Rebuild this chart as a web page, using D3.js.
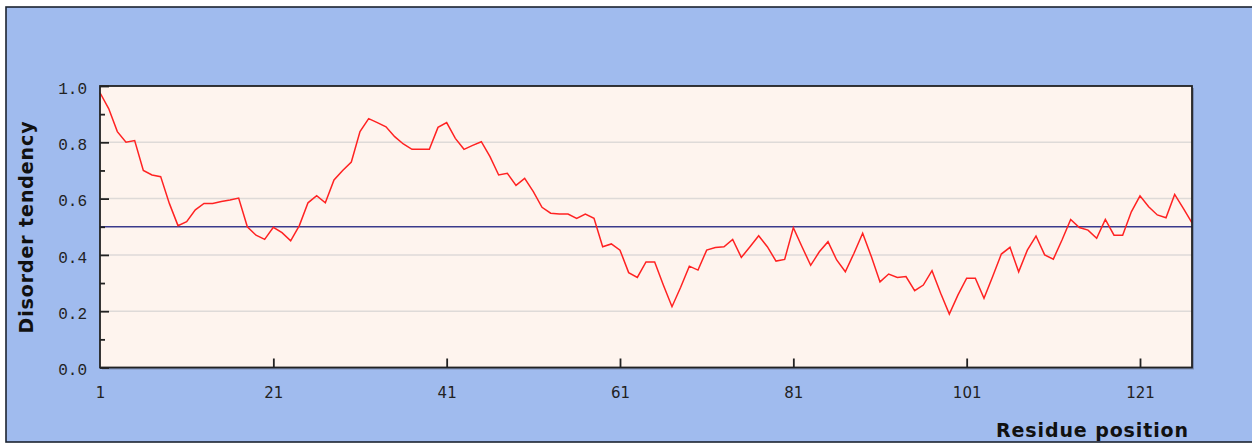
<!DOCTYPE html>
<html><head><meta charset="utf-8">
<script src="https://cdn.jsdelivr.net/npm/d3@7"></script>
<style>
html,body{margin:0;padding:0;background:#fff;}
svg{display:block;}
</style></head>
<body>
<svg id="c" width="1252" height="444"></svg>
<script>
// Disorder tendency per residue (residue = index + 1)
const disorder = [
0.976,0.92,0.838,0.80,0.806,0.70,0.684,0.678,0.583,0.504,
0.518,0.56,0.583,0.583,0.59,0.595,0.602,0.50,0.47,0.455,
0.498,0.479,0.45,0.504,0.585,0.61,0.585,0.666,0.70,0.73,
0.838,0.884,0.87,0.855,0.82,0.794,0.775,0.775,0.775,0.853,
0.87,0.814,0.775,0.789,0.802,0.749,0.684,0.69,0.647,0.672,
0.625,0.569,0.548,0.545,0.545,0.53,0.545,0.53,0.429,0.439,
0.417,0.337,0.32,0.375,0.375,0.293,0.216,0.285,0.36,0.346,
0.417,0.426,0.429,0.455,0.391,0.429,0.468,0.429,0.378,0.384,
0.497,0.429,0.363,0.411,0.447,0.382,0.34,0.406,0.477,0.394,
0.304,0.332,0.32,0.323,0.273,0.293,0.344,0.264,0.19,0.258,
0.317,0.317,0.246,0.323,0.403,0.427,0.34,0.417,0.467,0.4,
0.385,0.453,0.526,0.497,0.488,0.459,0.526,0.47,0.47,0.553,
0.61,0.571,0.542,0.532,0.615,0.565,0.514
];
const xTicks = [1, 21, 41, 61, 81, 101, 121];
const yMajorTicks = [0.0, 0.2, 0.4, 0.6, 0.8, 1.0];
const yMinorTicks = [0.1, 0.3, 0.5, 0.7, 0.9];
const gridValues = [0.2, 0.4, 0.6, 0.8];
const threshold = 0.5;
const xTitle = "Residue position";
const yTitle = "Disorder tendency";

const svg = d3.select("#c");
const L = 100, R = 1192, T = 86, B = 367.5;
const x = d3.scaleLinear().domain([1, disorder.length]).range([L, R]);
const y = d3.scaleLinear().domain([0, 1]).range([B, T]);

// outer panel
svg.append("rect").attr("x", 6).attr("y", 7).attr("width", 1270).attr("height", 435)
  .attr("fill", "#a0bbee").attr("stroke", "#1c2330").attr("stroke-width", 1.6);

// plot shadow + background
svg.append("rect").attr("x", L + 2).attr("y", T + 2).attr("width", R - L).attr("height", B - T)
  .attr("fill", "#7c8fb8");
svg.append("rect").attr("x", L).attr("y", T).attr("width", R - L).attr("height", B - T)
  .attr("fill", "#fef4ee");

// gridlines
svg.append("g").selectAll("line").data(gridValues).join("line")
  .attr("x1", L).attr("x2", R).attr("y1", d => y(d)).attr("y2", d => y(d))
  .attr("stroke", "#dedad8").attr("stroke-width", 1.5);

// threshold
svg.append("line").attr("x1", L).attr("x2", R).attr("y1", y(threshold)).attr("y2", y(threshold))
  .attr("stroke", "#3a3a8c").attr("stroke-width", 1.5);

// data line
const line = d3.line().x((d, i) => x(i + 1)).y(d => y(d));
svg.append("path").datum(disorder).attr("d", line)
  .attr("fill", "none").attr("stroke", "#ff2222").attr("stroke-width", 1.5)
  .attr("stroke-linejoin", "miter");

// frame
svg.append("rect").attr("x", L).attr("y", T).attr("width", R - L).attr("height", B - T)
  .attr("fill", "none").attr("stroke", "#222", ).attr("stroke-width", 1.8);

// x axis ticks (inward) + labels
const xAxis = d3.axisBottom(x).tickValues(xTicks).tickSizeInner(-9).tickSizeOuter(0).tickPadding(20)
  .tickFormat(d3.format("d"));
const gx = svg.append("g").attr("transform", `translate(0,${B})`).call(xAxis);
gx.select(".domain").remove();
gx.selectAll(".tick line").attr("stroke", "#222").attr("stroke-width", 1.8);
gx.selectAll(".tick text").attr("font-family", "DejaVu Sans").attr("font-size", 15)
  .attr("fill", "#222");
gx.selectAll(".tick").filter(d => d === 1).select("line").remove();

// y axis ticks (inward)
const yAxis = d3.axisLeft(y).tickValues(yMajorTicks).tickSizeInner(-9).tickSizeOuter(0).tickPadding(13)
  .tickFormat(d3.format(".1f"));
const gy = svg.append("g").attr("transform", `translate(${L},0)`).call(yAxis);
gy.select(".domain").remove();
gy.selectAll(".tick line").attr("stroke", "#222").attr("stroke-width", 1.8);
gy.selectAll(".tick text").attr("font-family", "Liberation Mono").attr("font-size", 16)
  .attr("fill", "#222").attr("dy", "0.45em");
const yMinor = d3.axisLeft(y).tickValues(yMinorTicks).tickSizeInner(-5).tickSizeOuter(0).tickFormat("");
const gym = svg.append("g").attr("transform", `translate(${L},0)`).call(yMinor);
gym.select(".domain").remove();
gym.selectAll(".tick line").attr("stroke", "#222").attr("stroke-width", 1.8);

// titles
svg.append("text").attr("x", 1189).attr("y", 437).attr("text-anchor", "end")
  .attr("font-family", "DejaVu Sans").attr("font-weight", "bold").attr("font-size", 19)
  .attr("letter-spacing", 0.9).attr("fill", "#111").text(xTitle);
svg.append("text").attr("transform", "translate(33,227) rotate(-90)").attr("text-anchor", "middle")
  .attr("font-family", "DejaVu Sans").attr("font-weight", "bold").attr("font-size", 19)
  .attr("letter-spacing", 0.9).attr("fill", "#111").text(yTitle);
</script>
</body></html>
